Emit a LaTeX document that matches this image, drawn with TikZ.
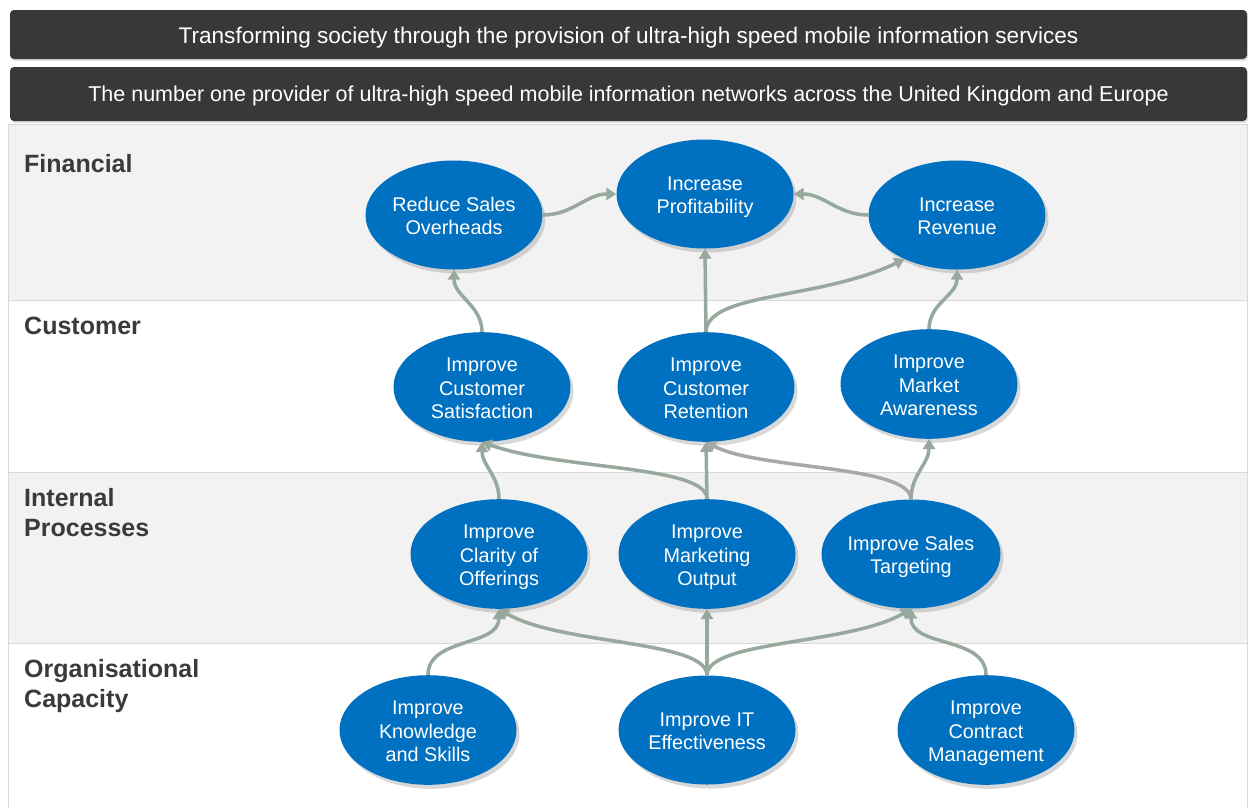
\documentclass[tikz,border=0pt]{standalone}
\usepackage{fontspec}
\setmainfont{Liberation Sans}
\usetikzlibrary{shapes.geometric,arrows.meta,shadows}
\definecolor{bar}{HTML}{383838}
\definecolor{band}{HTML}{F2F2F2}
\definecolor{bandline}{HTML}{D9D9D9}
\definecolor{obj}{HTML}{0070C0}
\definecolor{conn}{HTML}{97A89D}
\definecolor{conngray}{HTML}{A8A8A8}
\definecolor{lbl}{HTML}{3A3A3A}
\newcommand\objtext[1]{\raisebox{0pt}[\dimexpr\height+7pt\relax][\depth]{\begin{tabular}{@{}c@{}}#1\end{tabular}}}
\tikzset{
  headbar/.style={fill=bar, rounded corners=4pt, drop shadow={shadow xshift=1pt, shadow yshift=-2pt, opacity=0.25}},
  headtext/.style={text=white, inner sep=0},
  bandbox/.style={draw=bandline, line width=1pt},
  rowlabel/.style={text=lbl, font=\fontsize{25}{30}\selectfont\bfseries, anchor=north west, align=left, inner sep=0},
  objective/.style={ellipse, fill=obj, text=white, minimum width=177pt, minimum height=109pt, inner sep=0pt,
    font=\fontsize{19.8}{23.5}\selectfont,
    drop shadow={shadow xshift=3pt, shadow yshift=-4pt, opacity=0.3}},
  link/.style={draw=conn, line width=3.5pt, -{Triangle[width=12pt,length=10pt]}},
}
\begin{document}
\begin{tikzpicture}[x=1pt,y=1pt]
\useasboundingbox (0,0) rectangle (1251,-807);
% bands
\fill[white] (0,0) rectangle (1251,-807);
\filldraw[bandbox, fill=band] (8,-124) rectangle (1247,-300);
\filldraw[bandbox, fill=white] (8,-300) rectangle (1247,-472);
\filldraw[bandbox, fill=band] (8,-472) rectangle (1247,-643);
\filldraw[bandbox, fill=white] (8,-643) rectangle (1247,-812);
% header bars
\path[headbar] (10,-10) rectangle (1247,-59);
\path[headbar] (10,-67) rectangle (1247,-121);
\node[headtext, font=\fontsize{22.6}{26}\selectfont] (vision) at (628.5,-38) {Transforming society through the provision of ultra-high speed mobile information services};
\node[headtext, font=\fontsize{21.5}{26}\selectfont] (mission) at (628.5,-96) {The number one provider of ultra-high speed mobile information networks across the United Kingdom and Europe};
% row labels
\node[rowlabel] (lfin) at (24,-154) {Financial};
\node[rowlabel] (lcus) at (24,-317) {Customer};
\node[rowlabel] (lint) at (24,-488) {Internal\\Processes};
\node[rowlabel] (lorg) at (24,-659) {Organisational\\Capacity};
% objectives
\node[objective] (rso) at (454,-215) {\objtext{Reduce Sales\\Overheads}};
\node[objective] (ip)  at (705,-194) {\objtext{Increase\\Profitability}};
\node[objective] (ir)  at (957,-215) {\objtext{Increase\\Revenue}};
\node[objective] (ics) at (482,-387) {\objtext{Improve\\Customer\\Satisfaction}};
\node[objective] (icr) at (706,-387) {\objtext{Improve\\Customer\\Retention}};
\node[objective] (ima) at (929,-384) {\objtext{Improve\\Market\\Awareness}};
\node[objective] (ico) at (499,-554) {\objtext{Improve\\Clarity of\\Offerings}};
\node[objective] (imo) at (707,-554) {\objtext{Improve\\Marketing\\Output}};
\node[objective] (ist) at (911,-554) {\objtext{Improve Sales\\Targeting}};
\node[objective] (iks) at (428,-730) {\objtext{Improve\\Knowledge\\and Skills}};
\node[objective] (iit) at (707,-730) {\objtext{Improve IT\\Effectiveness}};
\node[objective] (icm) at (986,-730) {\objtext{Improve\\Contract\\Management}};
% links
\draw[link] (rso.east) to[out=0,in=180] (ip.west);
\draw[link] (ir.west) to[out=180,in=0] (ip.east);
\draw[link] (ics.north) to[out=90,in=-90] (rso.south);
\draw[link] (icr.north) -- (ip.south);
\draw[link] (icr.north) .. controls (707,-292) and (820,-300) .. (ir.-140);
\draw[link] (ima.north) to[out=90,in=-90] (ir.south);
\draw[link] (ico.north) to[out=90,in=-90] (ics.south);
\draw[link] (imo.north) .. controls (707,-465) and (560,-470) .. (ics.south);
\draw[link] (imo.north) -- (icr.south);
\draw[link, draw=conngray] (ist.north) .. controls (911,-465) and (760,-470) .. (icr.south);
\draw[link] (ist.north) to[out=90,in=-90] (ima.south);
\draw[link] (iks.north) to[out=90,in=-90] (ico.south);
\draw[link] (iit.north) .. controls (707,-640) and (560,-645) .. (ico.south);
\draw[link] (iit.north) -- (imo.south);
\draw[link] (iit.north) .. controls (707,-640) and (850,-645) .. (ist.south);
\draw[link] (icm.north) to[out=90,in=-90] (ist.south);
\end{tikzpicture}
\end{document}
